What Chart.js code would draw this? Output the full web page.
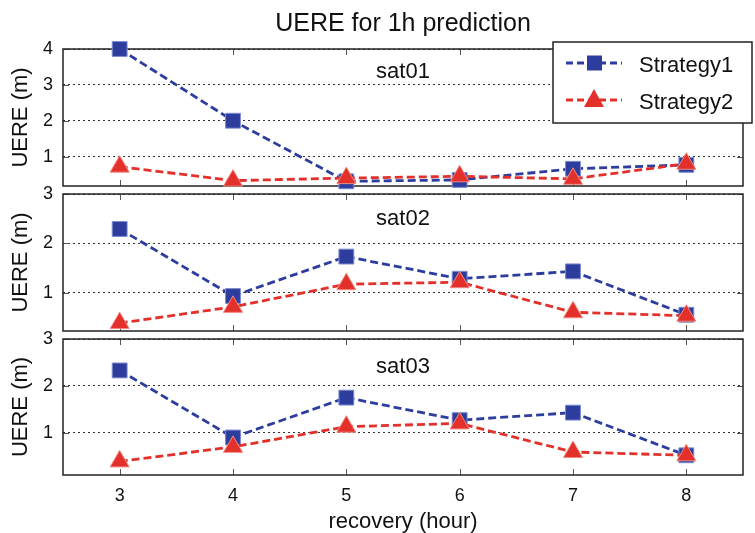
<!DOCTYPE html>
<html lang="en">
<head>
<meta charset="UTF-8">
<title>UERE for 1h prediction</title>
<script src="https://cdn.jsdelivr.net/npm/chart.js"></script>
<style>
  body { margin: 0; background: #fff; }
  #wrap { position: relative; width: 755px; height: 533px; overflow: hidden; }
  .panel { position: absolute; left: 0; width: 755px; }
</style>
</head>
<body>
<div id="wrap">
  <div class="panel" style="top:0;height:200px"><canvas id="sat01"></canvas></div>
  <div class="panel" style="top:170px;height:175px"><canvas id="sat02"></canvas></div>
  <div class="panel" style="top:315px;height:220px"><canvas id="sat03"></canvas></div>
</div>
<script>
  const hours = [3, 4, 5, 6, 7, 8];
  const xTicks = [3, 4, 5, 6, 7, 8];
  const seriesNames = ['Strategy1', 'Strategy2'];

  const sat01S1 = [4.0, 2.0, 0.31, 0.35, 0.66, 0.77];
  const sat01S2 = [0.72, 0.33, 0.40, 0.45, 0.38, 0.80];
  const sat02S1 = [2.29, 0.93, 1.73, 1.28, 1.43, 0.55];
  const sat02S2 = [0.38, 0.71, 1.17, 1.21, 0.60, 0.53];
  const sat03S1 = [2.33, 0.90, 1.75, 1.27, 1.43, 0.52];
  const sat03S2 = [0.39, 0.70, 1.13, 1.20, 0.59, 0.52];

  const yTicks01 = [1, 2, 3, 4];
  const yTicks02 = [1, 2, 3];
  const yTicks03 = [1, 2, 3];

  const BLUE = '#2c3d9e';
  const RED = '#e3302a';
  const FONT = '"Liberation Sans", Arial, Helvetica, sans-serif';

  Chart.defaults.font.family = FONT;
  Chart.defaults.color = '#111';

  // box, inward tick marks and the satellite label
  const framePlugin = {
    id: 'frame',
    beforeDatasetsDraw(chart, args, opts) {
      const { ctx, chartArea: a, scales: { x, y } } = chart;
      ctx.save();
      ctx.strokeStyle = '#555';
      ctx.lineWidth = 1;
      ctx.beginPath();
      xTicks.forEach(v => {
        const px = Math.round(x.getPixelForValue(v)) + 0.5;
        ctx.moveTo(px, a.top); ctx.lineTo(px, a.top + 6);
        ctx.moveTo(px, a.bottom); ctx.lineTo(px, a.bottom - 6);
      });
      y.ticks.forEach(t => {
        const py = Math.round(y.getPixelForValue(t.value)) + 0.5;
        ctx.moveTo(a.left, py); ctx.lineTo(a.left + 6, py);
        ctx.moveTo(a.right, py); ctx.lineTo(a.right - 6, py);
      });
      ctx.stroke();
      ctx.strokeStyle = '#222';
      ctx.lineWidth = 1.5;
      ctx.strokeRect(a.left, a.top, a.width, a.height);
      ctx.fillStyle = '#111';
      ctx.font = '22px ' + FONT;
      ctx.textAlign = 'center';
      ctx.textBaseline = 'alphabetic';
      ctx.fillText(opts.label, (a.left + a.right) / 2, a.top + opts.labelOffset);
      ctx.restore();
    }
  };

  // figure title + legend, drawn on the first panel
  const headerPlugin = {
    id: 'header',
    afterDraw(chart, args, opts) {
      if (!opts.show) return;
      const { ctx, chartArea: a } = chart;
      ctx.save();
      ctx.fillStyle = '#111';
      ctx.font = '25px ' + FONT;
      ctx.textAlign = 'center';
      ctx.textBaseline = 'alphabetic';
      ctx.fillText('UERE for 1h prediction', (a.left + a.right) / 2, 31);

      // legend box
      ctx.fillStyle = '#fff';
      ctx.fillRect(553, 42, 199, 81);
      ctx.strokeStyle = '#222';
      ctx.lineWidth = 1.5;
      ctx.strokeRect(553, 42, 199, 81);

      const rows = [
        { name: seriesNames[0], color: BLUE, y: 63, marker: 'rect' },
        { name: seriesNames[1], color: RED, y: 100, marker: 'triangle' }
      ];
      rows.forEach(r => {
        ctx.strokeStyle = r.color;
        ctx.lineWidth = 2.8;
        ctx.setLineDash([7, 4]);
        ctx.beginPath();
        ctx.moveTo(566, r.y); ctx.lineTo(622, r.y);
        ctx.stroke();
        ctx.setLineDash([]);
        ctx.fillStyle = r.color;
        ctx.beginPath();
        if (r.marker === 'rect') {
          ctx.rect(587, r.y - 7.5, 15, 15);
        } else {
          ctx.moveTo(594, r.y - 11);
          ctx.lineTo(604, r.y + 7);
          ctx.lineTo(584, r.y + 7);
          ctx.closePath();
        }
        ctx.fill();
        ctx.fillStyle = '#111';
        ctx.font = '22px ' + FONT;
        ctx.textAlign = 'left';
        ctx.fillText(r.name, 639, r.y + 8.5);
      });
      ctx.restore();
    }
  };

  function makePanel(id, s1, s2, yMin, yMax, yTicks, pad, labelOffset, isBottom, isTop) {
    new Chart(document.getElementById(id), {
      type: 'line',
      data: {
        datasets: [
          {
            label: seriesNames[0],
            data: hours.map((h, i) => ({ x: h, y: s1[i] })),
            borderColor: BLUE,
            backgroundColor: BLUE,
            borderWidth: 2.8,
            borderDash: [8, 4],
            pointStyle: 'rect',
            pointRadius: 10.5,
            pointBorderColor: '#7d8bd0',
            pointBorderWidth: 1,
            clip: false,
            order: 1
          },
          {
            label: seriesNames[1],
            data: hours.map((h, i) => ({ x: h, y: s2[i] })),
            borderColor: RED,
            backgroundColor: RED,
            borderWidth: 2.8,
            borderDash: [8, 4],
            pointStyle: 'triangle',
            pointRadius: 11,
            pointBorderColor: '#f08a80',
            pointBorderWidth: 1,
            clip: false,
            order: 0
          }
        ]
      },
      options: {
        responsive: true,
        maintainAspectRatio: false,
        animation: false,
        layout: { padding: { left: 8, right: 2, top: pad.top, bottom: pad.bottom } },
        plugins: {
          legend: { display: false },
          tooltip: { enabled: false },
          frame: { label: id, labelOffset: labelOffset },
          header: { show: isTop }
        },
        scales: {
          x: {
            type: 'linear',
            min: 2.5,
            max: 8.5,
            display: isBottom,
            afterBuildTicks: s => { s.ticks = xTicks.map(v => ({ value: v })); },
            afterFit: s => { s.height = isBottom ? 60 : 0; },
            grid: { display: false },
            border: { display: false },
            ticks: { padding: 2, font: { size: 18 }, color: '#111' },
            title: {
              display: true,
              text: 'recovery (hour)',
              font: { size: 22 },
              color: '#111',
              padding: { top: 0, bottom: 0 }
            }
          },
          y: {
            type: 'linear',
            min: yMin,
            max: yMax,
            afterBuildTicks: s => { s.ticks = yTicks.map(v => ({ value: v })); },
            afterFit: s => { s.width = 55; },
            grid: { color: '#333', lineWidth: 1, drawTicks: true, tickLength: 8, tickColor: 'rgba(0,0,0,0)' },
            border: { display: false, dash: [2, 3] },
            ticks: { padding: 2, font: { size: 18 }, color: '#111' },
            title: {
              display: true,
              text: 'UERE (m)',
              font: { size: 22 },
              color: '#111',
              padding: { top: 0, bottom: 0 }
            }
          }
        }
      },
      plugins: [framePlugin, headerPlugin]
    });
  }

  makePanel('sat01', sat01S1, sat01S2, 0.18, 4, yTicks01, { top: 49, bottom: 14 }, 29, false, true);
  makePanel('sat02', sat02S1, sat02S2, 0.22, 3, yTicks02, { top: 24, bottom: 14 }, 31, false, false);
  makePanel('sat03', sat03S1, sat03S2, 0.1, 3, yTicks03, { top: 24, bottom: 0 }, 34, true, false);
</script>
</body>
</html>
